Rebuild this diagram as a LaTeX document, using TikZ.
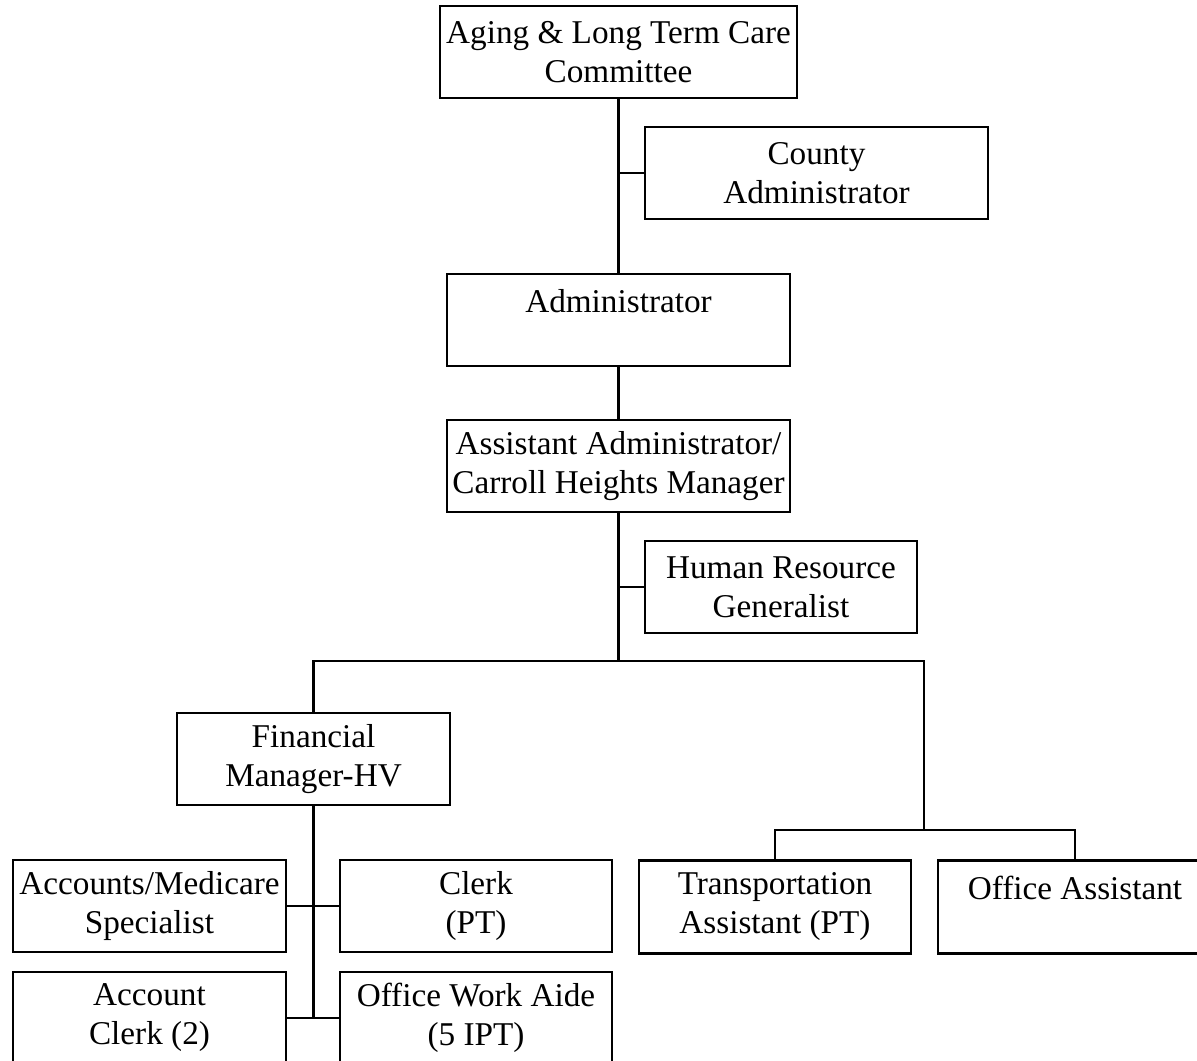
\documentclass[tikz,border=0pt]{standalone}
\usepackage{fontspec}
\setmainfont{Liberation Serif}
\usetikzlibrary{math}

\begin{document}
\begin{tikzpicture}[x=0.01cm,y=-0.01cm]

\tikzmath{
	\H = 0.92cm;
}

\tikzset{unit box/.style={
    draw, line width=0.6pt,
    minimum height=\H,
    minimum width=#1,
    align=center,
    inner sep=0pt,
    font=\fontsize{9.45}{11.1}\selectfont
  },
  unit box/.default=2.72cm,
  link/.style={line width=0.6pt}
}

\useasboundingbox (0,0) rectangle (1197,1061);

\node[unit box=3.57cm] (comm) at (618.5,52) {Aging \& Long Term Care\\Committee};
\node[unit box=3.43cm] (county) at (816.5,173) {County\\Administrator};
\node[unit box=3.43cm] (admin) at (618.5,320) {Administrator\\~};
\node[unit box=3.43cm] (asst) at (618.5,466) {Assistant Administrator/\\Carroll Heights Manager};
\node[unit box] (hr) at (781,587) {Human Resource\\Generalist};
\node[unit box] (fin) at (313.5,759) {Financial\\Manager-HV};
\node[unit box=2.73cm] (acct) at (149.5,906) {Accounts/Medicare\\Specialist};
\node[unit box] (clerk) at (476,906) {Clerk\\(PT)};
\node[unit box=2.73cm] (aclerk) at (149.5,1018) {Account\\Clerk (2)};
\node[unit box] (aide) at (476,1018) {Office Work Aide\\(5 IPT)};
\node[unit box, minimum height=0.93cm] (trans) at (775,907) {Transportation\\Assistant (PT)};
\node[unit box=2.74cm, minimum height=0.93cm] (offasst) at (1075,907) {Office Assistant\\~};

\coordinate (split) at (618.5,661);
\coordinate (sub) at (924,830);

\draw[link] (comm) -- (admin);
\draw[link] (county.west) -- (county.west -| comm.south);
\draw[link] (admin) -- (asst);
\draw[link] (asst) -- (split);
\draw[link] (hr.west) -- (hr.west -| asst.south);
\draw[link] (fin.north) |- (split) -| (sub);
\draw[link] (trans.north) |- (sub) -| (offasst.north);
\draw[link] (fin.south) -- (fin.south |- aide.west);
\draw[link] (acct) -- (clerk);
\draw[link] (aclerk) -- (aide);

\end{tikzpicture}
\end{document}
